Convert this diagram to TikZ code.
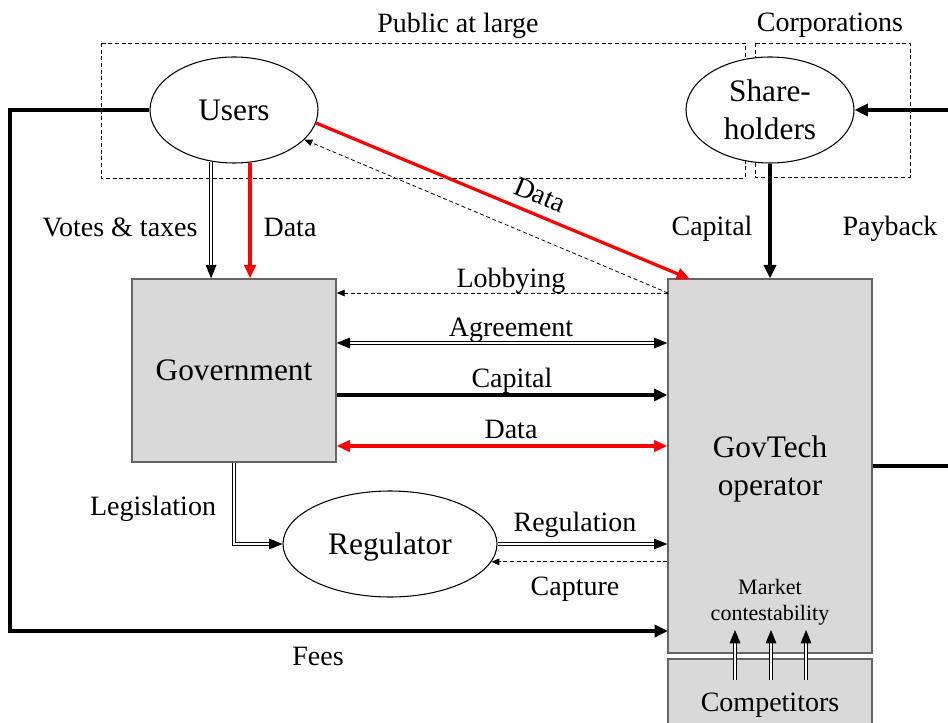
\documentclass[tikz,border=0pt]{standalone}
\usepackage{fontspec}
\setmainfont{Liberation Serif}
\usetikzlibrary{arrows.meta,shapes.geometric}
\begin{document}
\begin{tikzpicture}[x=0.75pt,y=-0.75pt,
  every node/.style={font=\fontsize{21}{28}\selectfont},
  bigtext/.style={font=\fontsize{23.5}{28.5}\selectfont},
  ellnode/.style={ellipse, draw, fill=white, line width=0.8pt, minimum width=126pt, minimum height=79.5pt, inner sep=0pt, align=center, bigtext},
  graybox/.style={rectangle, draw=black!60, line width=1pt, fill=black!15, inner sep=0pt, align=center, bigtext},
  groupbox/.style={draw, dash pattern=on 3pt off 2pt, line width=0.6pt},
  thickarr/.style={line width=2.6pt, -{Triangle[length=10pt,width=9pt]}},
  thickline/.style={line width=2.6pt},
  redarr/.style={red, line width=2.4pt, -{Triangle[length=10pt,width=8.5pt]}},
  redboth/.style={red, line width=2.4pt, {Triangle[length=10pt,width=8.5pt]}-{Triangle[length=10pt,width=8.5pt]}},
  dblarr/.style={double, double distance=1.1pt, line width=0.7pt, -{Triangle[length=10pt,width=8pt]}},
  dblboth/.style={double, double distance=1.1pt, line width=0.7pt, {Triangle[length=10pt,width=8pt]}-{Triangle[length=10pt,width=8pt]}},
  dasharr/.style={dash pattern=on 3pt off 2pt, line width=0.6pt, -{Triangle[length=6pt,width=5pt]}},
  lbl/.style={anchor=base, inner sep=0pt}
]
\useasboundingbox (0,0) rectangle (948,723);

% group boxes
\draw[groupbox] (101,43) rectangle (745,178);
\draw[groupbox] (755,43) rectangle (910,177);
\node[lbl] (lpub) at (458,33) {Public at large};
\node[lbl] (lcorp) at (830,32) {Corporations};

% coordinates
\coordinate (fc1) at (10,110);
\coordinate (fc2) at (10,631);
\coordinate (feesin) at (668,631);
\coordinate (pbin) at (948,110);
\coordinate (pbout) at (948,466);
\coordinate (lob) at (668,293);
\coordinate (dtip) at (690,279);
\coordinate (yagr) at (0,343);
\coordinate (ycap) at (0,395);
\coordinate (ydat) at (0,446);
\coordinate (c1s) at (735,680);
\coordinate (c1e) at (735,630);
\coordinate (c2s) at (771,680);
\coordinate (c2e) at (771,630);
\coordinate (c3s) at (806,680);
\coordinate (c3e) at (806,630);

% main nodes
\node[graybox, minimum width=153pt, minimum height=137.25pt] (govt) at (234,370.5) {Government};
\node[graybox, minimum width=153pt, minimum height=280.5pt, text depth=0pt] (govtech) at (770,466) {GovTech\\operator};
\node[graybox, minimum width=153pt, minimum height=65pt, text depth=0pt, font=\fontsize{21}{28}\selectfont] (comp) at (770,702.4) {Competitors};
\node[ellnode, minimum width=160.5pt, text depth=0pt] (reg) at (390,544) {Regulator};
\node[align=center, inner sep=0pt, font=\fontsize{16.5}{19.5}\selectfont] (mkt) at (770,602) {Market\\contestability};
\node[ellnode] (users) at (234,110) {Users};
\node[ellnode] (share) at (770,110) {Share-\\holders};

% Fees loop
\draw[thickarr] (users.west) -- (fc1) -- (fc2) -- (feesin);
\node[lbl] (lfees) at (318,665) {Fees};

% Payback
\draw[thickarr] (pbin) -- (share.east);
\draw[thickline] (govtech.east) -- (pbout);
\node[lbl] (lpay) at (890,236) {Payback};

% Shareholders capital
\draw[thickarr] (share.south) -- (govtech.north);
\node[lbl] (lcap1) at (712,236) {Capital};

% Users to government
\draw[dblarr] (users.-114.3) -- (users.-114.3 |- govt.north);
\draw[redarr] (users.-73.9) -- (users.-73.9 |- govt.north);
\node[lbl] (lvotes) at (120,237) {Votes \& taxes};
\node[lbl] (ldata1) at (290,237) {Data};

% Users to GovTech data
\draw[redarr] (users.-9) -- (dtip);
\node[rotate=-22.6, inner sep=0pt] (ldata2) at (540,195) {Data};

% Lobbying
\draw[dasharr] (lob) -- (users);
\draw[dasharr] (lob) -- (govt.east |- lob);
\node[lbl] (llob) at (511,287) {Lobbying};

% Government <-> GovTech
\draw[dblboth] (govt.east |- yagr) -- (govtech.west |- yagr);
\node[lbl] (lagr) at (511,336) {Agreement};
\draw[thickarr] (govt.east |- ycap) -- (govtech.west |- ycap);
\node[lbl] (lcap2) at (512,387) {Capital};
\draw[redboth] (govt.east |- ydat) -- (govtech.west |- ydat);
\node[lbl] (ldata3) at (511,438) {Data};

% Legislation
\draw[dblarr] (govt.south) |- (reg.west);
\node[lbl] (lleg) at (153,515) {Legislation};

% Regulation and capture
\draw[dblarr] (reg.east) -- (govtech.west |- reg.east);
\node[lbl] (lreg) at (575,531) {Regulation};
\draw[dasharr] (govtech.west |- reg.-10) -- (reg.-10);
\node[lbl] (lcapt) at (575,595) {Capture};

% Market contestability
\draw[dblarr] (c1s) -- (c1e);
\draw[dblarr] (c2s) -- (c2e);
\draw[dblarr] (c3s) -- (c3e);
\end{tikzpicture}
\end{document}
